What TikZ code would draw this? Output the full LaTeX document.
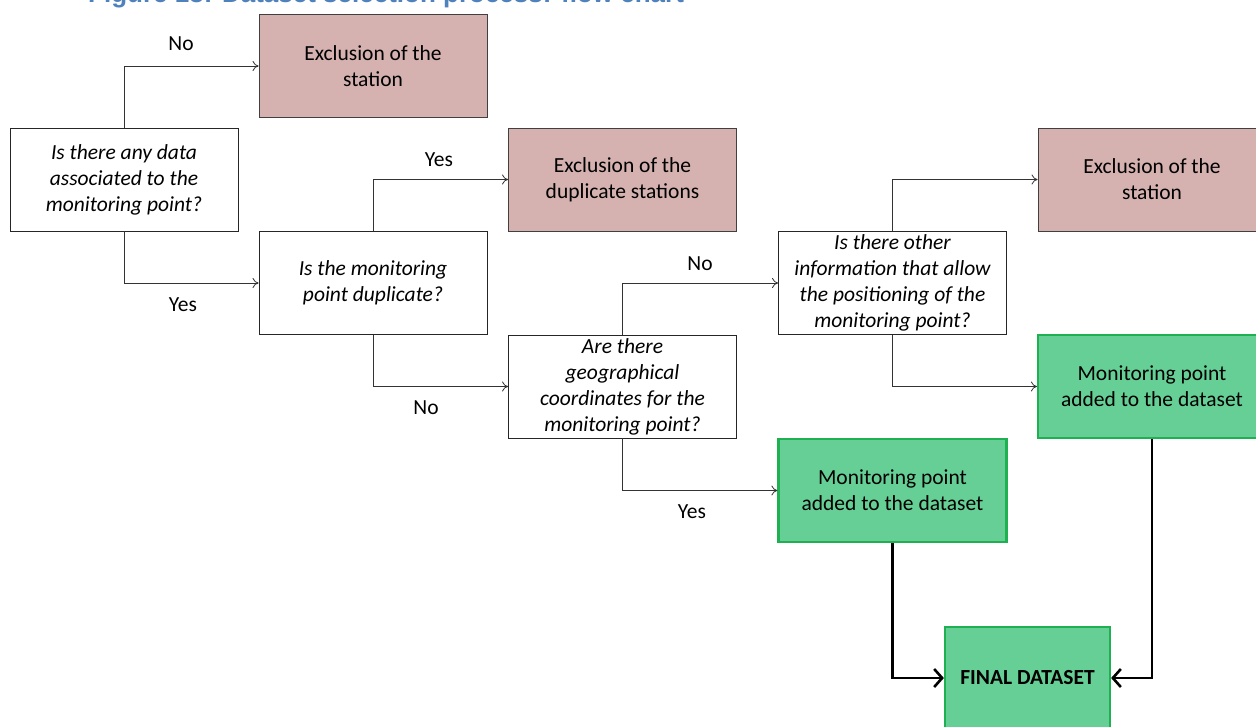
\documentclass[tikz,border=0pt]{standalone}
\usepackage{fontspec}
\setmainfont{Carlito}
\newfontfamily\titlefont{Liberation Sans}
\usetikzlibrary{arrows.meta}
\definecolor{exclfill}{HTML}{D5B1B0}
\definecolor{exclline}{HTML}{404040}
\definecolor{okfill}{HTML}{66CF95}
\definecolor{okline}{HTML}{1EB051}
\definecolor{titleblue}{HTML}{4F81BD}
\begin{document}
\begin{tikzpicture}[x=1pt,y=-1pt,
  box/.style={draw, line width=0.9pt, minimum width=228pt, minimum height=103pt,
    inner sep=0pt, align=center, font=\fontsize{21.5}{26}\selectfont},
  question/.style={box, fill=white, draw=black!85, font=\fontsize{21.5}{26}\selectfont\itshape},
  exclusion/.style={box, fill=exclfill, draw=exclline},
  added/.style={box, fill=okfill, draw=okline, line width=2.2pt},
  flow/.style={draw=black!80, line width=0.8pt, -{To[length=6pt,width=10pt]}},
  result/.style={draw=black, line width=2.6pt, -{Straight Barb[length=8pt,width=18pt,line width=2.6pt]}},
  lbl/.style={font=\fontsize{21.5}{24}\selectfont}]
\useasboundingbox (0,0) rectangle (1256,726);
\clip (0,0) rectangle (1256,726);

% caption, partly above the page edge
\node[anchor=base west, inner sep=0pt, text=titleblue,
  font=\titlefont\bfseries\fontsize{26}{28}\selectfont] (title) at (88,2.5)
  {Figure 13: Dataset selection process: flow chart};

% question boxes
\node[question] (q1) at (124,179.5) {Is there any data\\associated to the\\monitoring point?};
\node[question] (q2) at (373,283) {Is the monitoring\\point duplicate?};
\node[question] (q3) at (622.5,386.5) {Are there\\geographical\\coordinates for the\\monitoring point?};
\node[question] (q4) at (892.5,283) {Is there other\\information that allow\\the positioning of the\\monitoring point?};

% exclusion boxes
\node[exclusion] (e1) at (373,66) {Exclusion of the\\station};
\node[exclusion] (e2) at (622.5,179.5) {Exclusion of the\\duplicate stations};
\node[exclusion] (e3) at (1152,179.5) {Exclusion of the\\station};

% accepted points
\node[added] (a1) at (892.5,490.5) {Monitoring point\\added to the dataset};
\node[added] (a2) at (1152,386.5) {Monitoring point\\added to the dataset};
\node[added, minimum width=165pt, minimum height=102pt, font=\fontsize{21.5}{26}\selectfont\bfseries]
  (final) at (1027.5,678) {FINAL DATASET};

% decisions
\draw[flow] (q1.north) |- (e1.west);
\draw[flow] (q1.south) |- (q2.west);
\draw[flow] (q2.north) |- (e2.west);
\draw[flow] (q2.south) |- (q3.west);
\draw[flow] (q3.north) |- (q4.west);
\draw[flow] (q3.south) |- (a1.west);
\draw[flow] (q4.north) |- (e3.west);
\draw[flow] (q4.south) |- (a2.west);

% collecting the accepted points
\draw[result] (a1.south) |- (final.west);
\draw[result] (a2.south) |- (final.east);

% branch labels
\node[lbl] (l1) at (181,44) {No};
\node[lbl] (l2) at (183,305) {Yes};
\node[lbl] (l3) at (439,160) {Yes};
\node[lbl] (l4) at (426,408) {No};
\node[lbl] (l5) at (700,264) {No};
\node[lbl] (l6) at (692,512) {Yes};
\end{tikzpicture}
\end{document}
